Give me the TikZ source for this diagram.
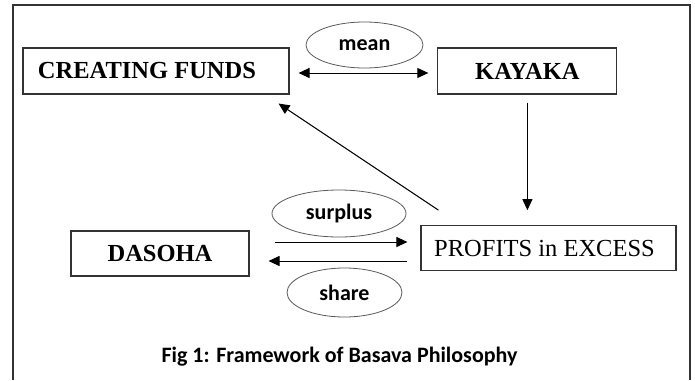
\documentclass[tikz,border=0pt]{standalone}
\usepackage{fontspec}
\setmainfont{Liberation Serif}
\newfontfamily\labelfont{Carlito}
\usetikzlibrary{arrows.meta,shapes.geometric,calc}

\tikzset{
  box/.style={draw=black!80,line width=1.1pt,inner sep=0pt,minimum height=46pt,
    font=\fontsize{24.5}{28}\selectfont},
  oval/.style={ellipse,draw=black!65,line width=0.8pt,inner sep=0pt,
    font=\labelfont\fontsize{22}{26}\selectfont\bfseries},
  tip/.tip={Triangle[length=11pt,width=10pt]},
  link/.style={-tip,line width=1pt},
}

\begin{document}
\begin{tikzpicture}[x=1pt,y=-1pt]
\useasboundingbox (0,0) rectangle (695,380);
% frame
\draw[black!80,line width=2pt] (13,380) -- (13,5) -- (690,5) -- (690,380);

\node[box,minimum width=266pt] (fund) at (156,71) {\bfseries CREATING FUNDS\hspace{18pt}\null};
\node[box,minimum width=179pt] (kayaka) at (527.4,71) {\bfseries KAYAKA};
\node[box,minimum width=255pt,minimum height=45pt] (profits) at (548.5,248.2) {PROFITS in EXCESS\hspace{8pt}\null};
\node[box,minimum width=178pt,minimum height=45pt] (dasoha) at (160,253.5) {\bfseries DASOHA};

\node[oval,minimum width=117pt,minimum height=46pt] (mean) at (364.5,45) {mean};
\node[oval,minimum width=134pt,minimum height=47pt] (surplus) at (339,213.5) {surplus};
\node[oval,minimum width=115pt,minimum height=49pt] (share) at (344.5,292.5) {share};

\draw[tip-tip,line width=1pt,shorten <=9pt,shorten >=9pt]
  ($(fund.east)+(0,2)$) -- ($(kayaka.west)+(0,2)$);
\draw[link,shorten <=8pt,shorten >=15pt] (kayaka.south) -- (kayaka.south |- profits.north);
\draw[link] ([xshift=18pt,yshift=15pt]profits.north west) -- ([xshift=-11pt,yshift=-9pt]fund.south east);

\coordinate (sp) at ($(dasoha.east)+(25,-11.5)$);
\coordinate (sh) at ($(dasoha.east)+(19,7.5)$);
\draw[link,shorten >=13pt] (sp) -- (sp -| profits.west);
\draw[link,shorten <=13pt] (sh -| profits.west) -- (sh);

\node[font=\labelfont\fontsize{22}{26}\selectfont\bfseries] (caption) at (339.5,357)
  {Fig 1: Framework of Basava Philosophy};
\end{tikzpicture}
\end{document}
